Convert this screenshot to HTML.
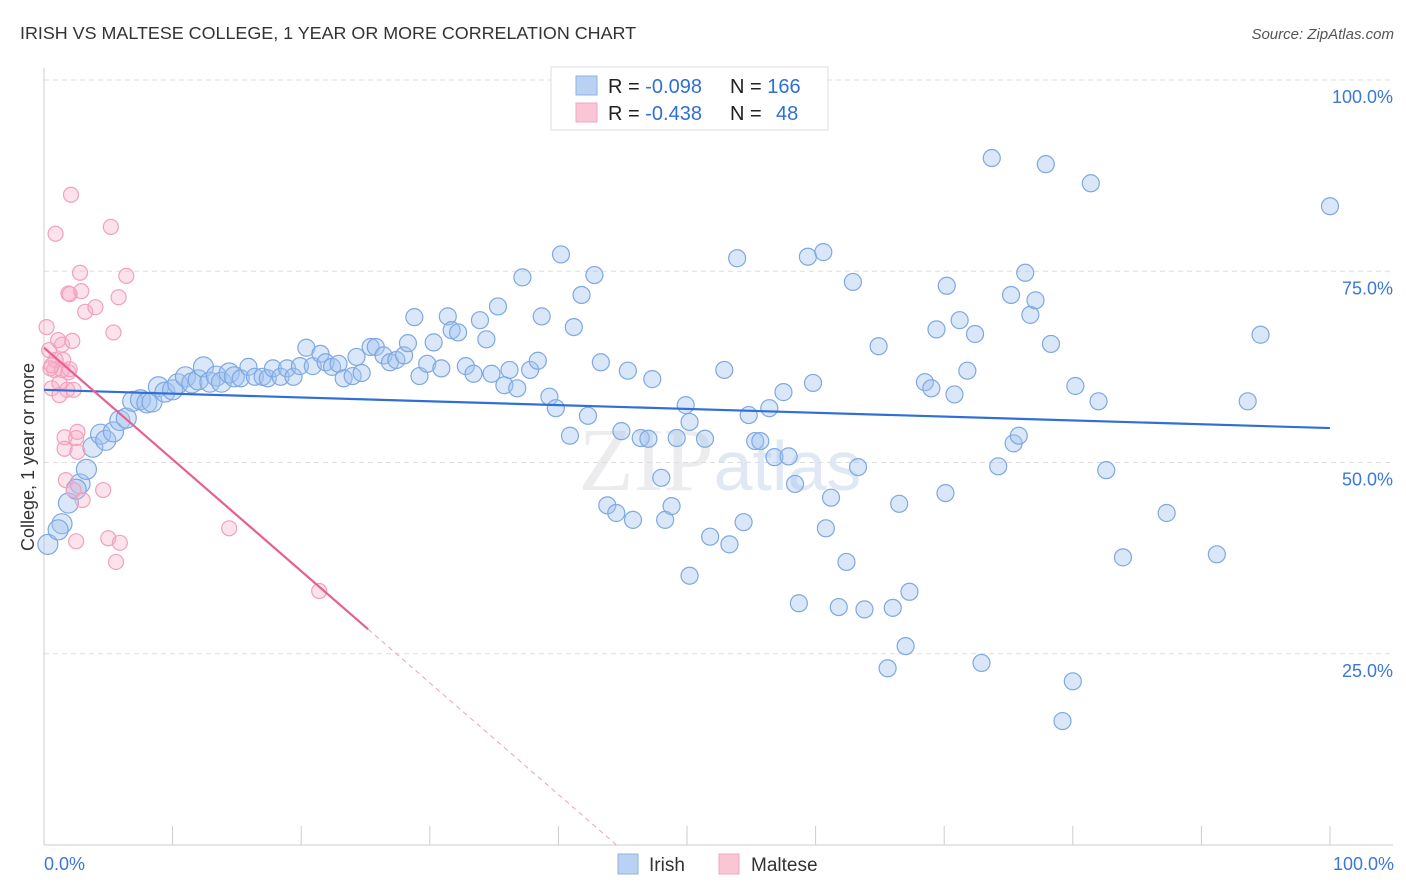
<!DOCTYPE html>
<html><head><meta charset="utf-8"><style>
body{margin:0;background:#fff;font-family:"Liberation Sans",sans-serif;}
svg{display:block}
</style></head><body>
<svg id="chart" width="1406" height="892">
<text x="20" y="39" font-size="17.9" fill="#333">IRISH VS MALTESE COLLEGE, 1 YEAR OR MORE CORRELATION CHART</text>
<text x="1394" y="39" font-size="15" fill="#555" text-anchor="end" font-style="italic">Source: ZipAtlas.com</text>
<text x="720" y="490" font-size="90" fill="#ececef" text-anchor="middle" font-family="Liberation Serif,serif">ZIP<tspan fill="#e0e8f5" font-family="Liberation Sans,sans-serif" font-size="70">atlas</tspan></text>
<g id="grid"></g><g id="axes"></g><g id="pts"></g><g id="lines"></g>
<g>
<rect x="551" y="67" width="277" height="63" fill="#fff" stroke="#ddd"/>
<rect x="576" y="76" width="21" height="19" fill="#b9d1f3" stroke="#8fb3e6"/>
<rect x="576" y="103" width="21" height="19" fill="#fac6d6" stroke="#f1a6c0"/>
<text x="608" y="93" font-size="20" fill="#222">R = <tspan fill="#2f6fd6">-0.098</tspan><tspan x="730">N = </tspan><tspan fill="#2f6fd6">166</tspan></text>
<text x="608" y="120" font-size="20" fill="#222">R = <tspan fill="#2f6fd6"> -0.438</tspan><tspan x="730">N = </tspan><tspan fill="#2f6fd6" x="776">48</tspan></text>
</g>
<g>
<rect x="618" y="854" width="20" height="20" fill="#b9d1f3" stroke="#8fb3e6"/>
<text x="649" y="871" font-size="19" fill="#333">Irish</text>
<rect x="719" y="854" width="20" height="20" fill="#fac6d6" stroke="#f1a6c0"/>
<text x="751" y="871" font-size="19" fill="#333">Maltese</text>
</g>
<text transform="translate(34,457) rotate(-90)" font-size="18" fill="#333" text-anchor="middle">College, 1 year or more</text>
<text x="44" y="870" font-size="18" fill="#3a78d8">0.0%</text>
<text x="1394" y="870" font-size="18" fill="#3a78d8" text-anchor="end">100.0%</text>
</svg>
<script>
const yTicks=[25,50,75,100];
const yTickLabels=["25.0%","50.0%","75.0%","100.0%"];
const xTicks=[0,10,20,30,40,50,60,70,80,90,100];
const irishX=[0.3,1.4,1.1,1.9,2.8,3.3,2.5,3.8,4.4,4.8,5.4,5.9,6.4,6.9,7.5,8.0,8.4,8.9,9.4,10.0,10.4,11.0,11.5,12.0,12.4,12.9,13.4,13.8,14.4,14.8,15.3,15.9,16.4,17.0,17.4,17.8,18.4,18.9,19.4,19.9,20.4,20.9,21.5,21.9,22.4,22.9,23.3,24.0,24.3,24.7,25.4,25.8,26.4,26.9,27.4,28.0,28.3,28.8,29.2,29.8,30.3,30.9,31.4,31.7,32.2,32.8,33.4,33.9,34.4,34.8,35.3,35.8,36.2,36.8,37.2,37.8,38.4,38.7,39.3,39.8,40.2,40.9,41.2,41.8,42.3,42.8,43.3,43.8,44.5,44.9,45.4,45.8,46.4,47.0,47.3,48.0,48.3,48.8,49.2,49.9,50.2,50.2,51.4,51.8,52.9,53.3,53.9,54.4,54.8,55.3,55.7,56.4,56.8,57.5,57.9,58.4,58.7,59.4,59.8,60.6,60.8,61.2,61.8,62.4,62.9,63.3,63.8,64.9,65.6,66.0,66.5,67.0,67.3,68.5,69.0,69.4,70.1,70.2,70.8,71.2,71.8,72.4,72.9,73.7,74.2,75.2,75.4,75.8,76.3,76.7,77.1,77.9,78.3,79.2,80.0,80.2,81.4,82.0,82.6,83.9,87.3,91.2,93.6,94.6,100.0];
const irishY=[39.3,42.0,41.2,44.7,47.2,49.1,46.5,52.0,53.7,52.9,54.0,55.5,55.8,58.0,58.2,57.8,57.9,59.9,59.2,59.5,60.3,61.2,60.4,60.8,62.5,60.5,61.3,60.5,61.7,61.2,61.0,62.5,61.2,61.2,61.0,62.3,61.2,62.3,61.2,62.6,65.0,62.6,64.2,63.1,62.5,62.9,61.0,61.3,63.8,61.7,65.1,65.1,64.0,63.1,63.4,64.0,65.6,69.0,61.3,62.9,65.7,62.3,69.1,67.3,67.0,62.6,61.6,68.6,66.1,61.6,70.4,60.1,62.1,59.7,74.2,62.1,63.3,69.1,58.6,57.1,77.2,53.5,67.7,71.9,56.1,74.5,63.1,44.4,43.4,54.1,62.0,42.5,53.2,53.1,60.9,48.0,42.5,44.3,53.2,57.5,35.2,55.3,53.1,40.3,62.1,39.3,76.7,42.2,56.2,52.8,52.8,57.1,50.7,59.2,50.8,47.2,31.6,76.9,60.4,77.5,41.4,45.4,31.1,37.0,73.6,49.4,30.8,65.2,23.1,31.0,44.6,26.0,33.1,60.5,59.7,67.4,46.0,73.1,58.9,68.6,62.0,66.8,23.8,89.8,49.5,71.9,52.5,53.5,74.8,69.3,71.2,89.0,65.5,16.2,21.4,60.0,86.5,58.0,49.0,37.6,43.4,38.0,58.0,66.7,83.5];
const maltX=[0.2,0.4,0.6,0.8,0.9,1.1,1.2,1.2,1.4,1.5,1.6,1.6,1.7,1.9,1.9,2.0,2.1,2.2,2.3,2.5,2.5,2.6,2.6,2.8,2.9,3.0,3.2,4.0,4.6,5.0,5.2,5.4,5.8,5.9,5.6,6.4,14.4,21.4,0.9,0.5,1.4,2.0,0.6,1.8,2.3];
const maltY=[67.7,64.7,59.7,62.1,79.9,66.0,60.4,58.8,65.4,63.4,51.8,53.3,47.7,72.1,61.8,72.0,85.0,65.9,46.4,39.7,53.2,54.0,51.4,74.8,72.4,45.1,69.7,70.3,46.4,40.1,80.8,67.0,71.6,39.5,37.0,74.4,41.4,33.2,63.4,62.3,62.1,62.2,62.7,59.5,59.5];
const irishTrend=[59.5,54.5];
const maltTrend=[65,-1.46];
const NS="http://www.w3.org/2000/svg";
const X=v=>44+v*12.86, Y=v=>845-v*7.65;
function mk(t,a,p){const e=document.createElementNS(NS,t);for(const k in a)e.setAttribute(k,a[k]);p.appendChild(e);return e;}
const grid=document.getElementById('grid'),axes=document.getElementById('axes'),pts=document.getElementById('pts'),lines=document.getElementById('lines');
yTicks.forEach((t,i)=>{
 const g=mk('line',{x1:44,x2:1393,y1:Y(t),y2:Y(t),stroke:'#ddd','stroke-dasharray':'5,4'},grid);
 
 
 const l=mk('text',{x:1393,y:Y(t)+23,'font-size':18,fill:'#3a78d8','text-anchor':'end'},axes);
 l.textContent=yTickLabels[i];
 
 
});
const ya=mk('line',{x1:44,x2:44,y1:68,y2:845,stroke:'#ccc'},axes);


const xa=mk('line',{x1:44,x2:1393,y1:845,y2:845,stroke:'#ccc'},axes);


xTicks.forEach(t=>{const k=mk('line',{x1:X(t),x2:X(t),y1:826,y2:845,stroke:'#ccc'},axes);
 
 });
irishX.forEach((v,i)=>{const c=mk('circle',{cx:X(v),cy:Y(irishY[i]),r:v<15?10:8.5,fill:'rgba(160,194,240,0.4)',stroke:'#7ea8e2','stroke-width':1.2},pts);
 
 });
maltX.forEach((v,i)=>{const c=mk('circle',{cx:X(v),cy:Y(maltY[i]),r:7.5,fill:'rgba(246,172,198,0.35)',stroke:'#f2a0bd','stroke-width':1.2},pts);
 
 });
const it=mk('line',{x1:X(0),y1:Y(irishTrend[0]),x2:X(100),y2:Y(irishTrend[1]),stroke:'#2f6fd6','stroke-width':2.2},lines);


const mf=x=>maltTrend[0]+maltTrend[1]*x;
const ms=mk('line',{x1:X(0),y1:Y(mf(0)),x2:X(25.2),y2:Y(mf(25.2)),stroke:'#e8608f','stroke-width':2.2},lines);


const xe=-maltTrend[0]/maltTrend[1];
const md=mk('line',{x1:X(25.2),y1:Y(mf(25.2)),x2:X(xe),y2:Y(0),stroke:'#f0a0bc','stroke-width':1,'stroke-dasharray':'5,4'},lines);


</script>
</body></html>
